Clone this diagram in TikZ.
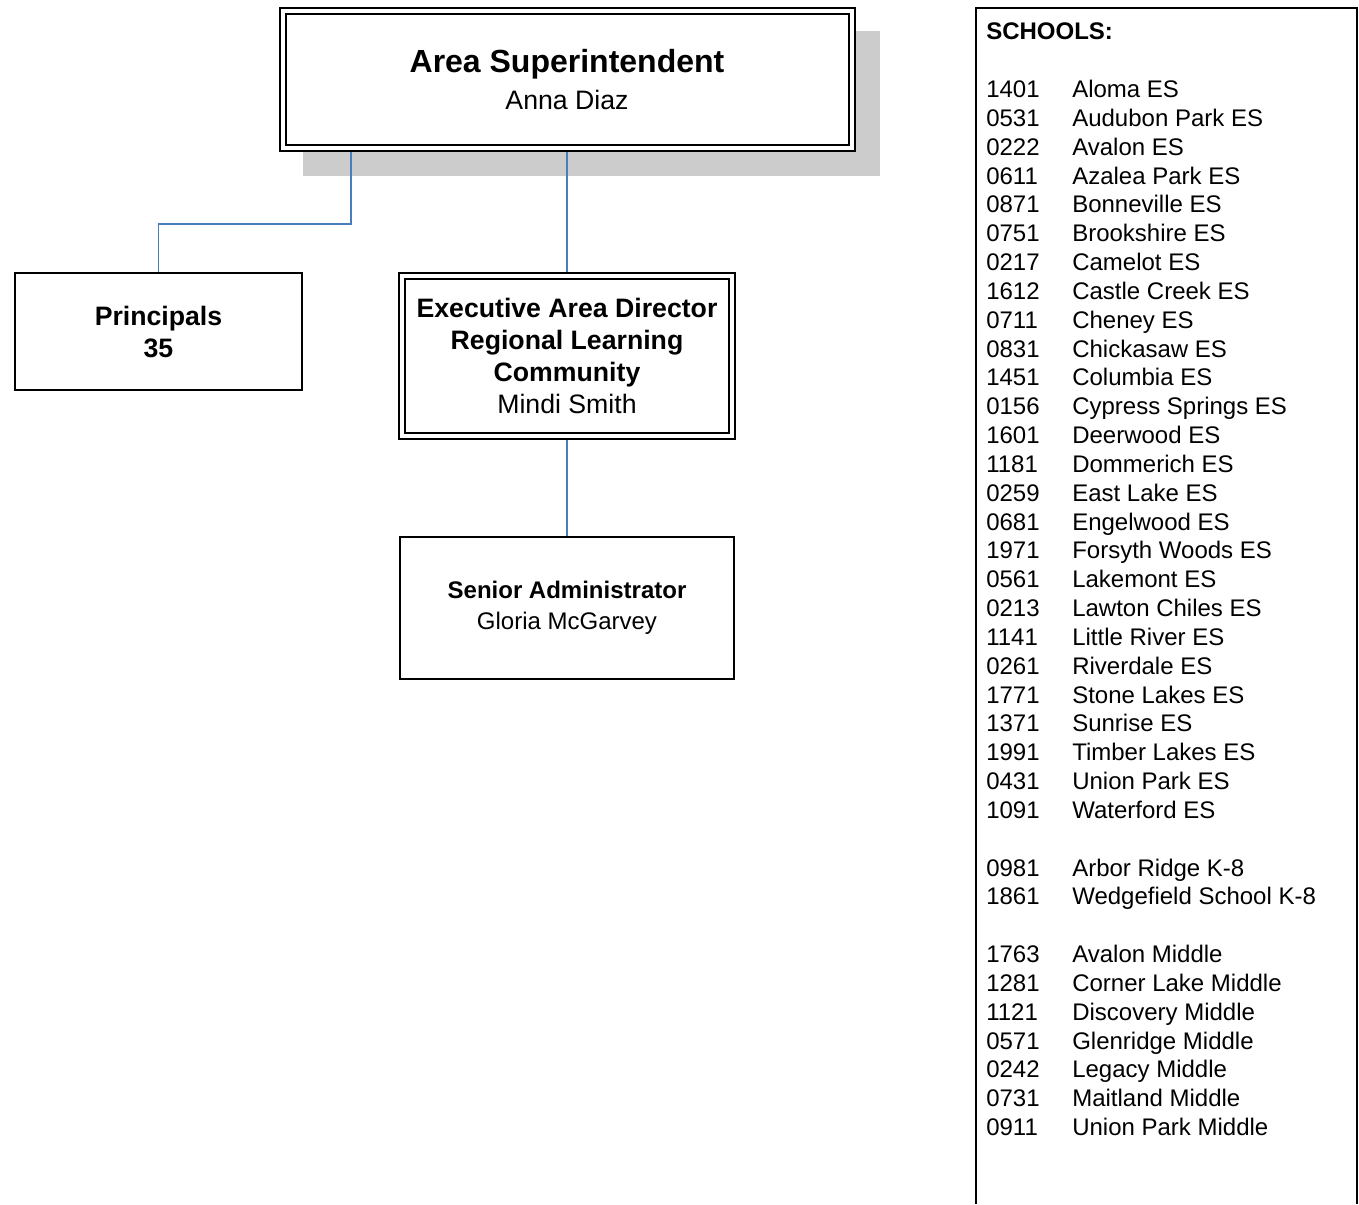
\documentclass[tikz,border=0pt]{standalone}
\usepackage{fontspec}
\setmainfont{Liberation Sans}
\usetikzlibrary{backgrounds}
\definecolor{linkblue}{RGB}{74,126,187}
\definecolor{shadowgray}{RGB}{204,204,204}
\begin{document}
\begin{tikzpicture}[x=0.75pt,y=-0.75pt,
  box/.style={draw,line width=1.5pt,fill=white,align=center,inner sep=0pt},
  dbox/.style={draw,line width=1.5pt,double,double distance=3pt,outer sep=3pt,fill=white,align=center,inner sep=0pt},
  link/.style={linkblue,line width=1pt},
  entry/.style={anchor=base west,inner sep=0pt,font=\fontsize{18}{21.6}\selectfont}]
\useasboundingbox (0,0) rectangle (1359,1204);
\node[dbox,minimum width=426.75pt,minimum height=102.75pt,font=\fontsize{20}{28}\selectfont] (super) at (567,79.5)
  {{\fontsize{24}{28}\selectfont\bfseries Area Superintendent}\\Anna Diaz};
\begin{scope}[on background layer]
\fill[shadowgray] ([shift={(24,24)}]super.north west) rectangle ([shift={(24,24)}]super.south east);
\end{scope}
\node[box,minimum width=215.25pt,minimum height=87.75pt,font=\fontsize{20}{24}\selectfont\bfseries] (princ) at (158.5,331.5)
  {Principals\\35};
\node[dbox,minimum width=247.5pt,minimum height=120pt,font=\fontsize{20}{24}\selectfont] (exec) at (567,356)
  {\textbf{Executive Area Director}\\\textbf{Regional Learning}\\\textbf{Community}\\Mindi Smith};
\node[box,minimum width=250.5pt,minimum height=106.5pt,font=\fontsize{18}{23}\selectfont] (senior) at (567,608)
  {\textbf{Senior Administrator}\\Gloria McGarvey};
\coordinate (elbow) at (351,224);
\draw[link] (super.south -| elbow) -- (elbow) -| (princ.north);
\draw[link] (super.south) -- (exec.north);
\draw[link] (exec.south) -- (senior.north);
\draw[line width=1.5pt] (975.5,1204) |- (1357,8) -- (1357,1204);
\node[entry,font=\fontsize{18}{21.6}\selectfont\bfseries] (head) at (986,39.8) {SCHOOLS:};
\foreach \k/\code/\name in {0/1401/Aloma ES,1/0531/Audubon Park ES,2/0222/Avalon ES,
  3/0611/Azalea Park ES,4/0871/Bonneville ES,5/0751/Brookshire ES,6/0217/Camelot ES,
  7/1612/Castle Creek ES,8/0711/Cheney ES,9/0831/Chickasaw ES,10/1451/Columbia ES,
  11/0156/Cypress Springs ES,12/1601/Deerwood ES,13/1181/Dommerich ES,14/0259/East Lake ES,
  15/0681/Engelwood ES,16/1971/Forsyth Woods ES,17/0561/Lakemont ES,18/0213/Lawton Chiles ES,
  19/1141/Little River ES,20/0261/Riverdale ES,21/1771/Stone Lakes ES,22/1371/Sunrise ES,
  23/1991/Timber Lakes ES,24/0431/Union Park ES,25/1091/Waterford ES,
  27/0981/Arbor Ridge K-8,28/1861/Wedgefield School K-8,
  30/1763/Avalon Middle,31/1281/Corner Lake Middle,32/1121/Discovery Middle,
  33/0571/Glenridge Middle,34/0242/Legacy Middle,35/0731/Maitland Middle,36/0911/Union Park Middle}{
  \node[entry] (code\k) at (986,97.6+28.83*\k) {\code};
  \node[entry] (name\k) at (1072,97.6+28.83*\k) {\name};
}
\end{tikzpicture}
\end{document}
